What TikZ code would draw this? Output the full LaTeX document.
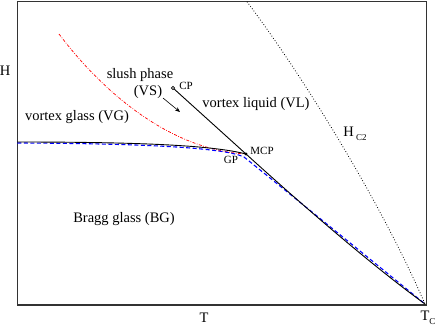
\documentclass[tikz,border=0pt]{standalone}
\usepackage{fontspec}
\setmainfont{Liberation Serif}
\usetikzlibrary{arrows.meta}
\tikzset{
  phase/.style={font=\fontsize{14.5}{16}\selectfont},
  pointlbl/.style={font=\fontsize{11}{13}\selectfont},
  frame/.style={draw=black!80,line width=1.1pt},
  melt/.style={line width=0.9pt},
  bgline/.style={draw=blue,line width=1.1pt,dash pattern=on 4pt off 2.5pt},
  slush/.style={draw=red,line width=0.7pt,dash pattern=on 3pt off 1.5pt on 0.7pt off 1.5pt},
  hctwo/.style={line width=0.8pt,dash pattern=on 0.8pt off 2pt}
}
\newcommand{\subtxt}[1]{\raisebox{-0.6ex}{\fontsize{9}{10}\selectfont #1}}
\begin{document}
\begin{tikzpicture}[x=1pt,y=-1pt,>=stealth]
\useasboundingbox (0,0) rectangle (436,327);
\draw[frame] (17.3,1.7) rectangle (426.8,305);
% special points
\coordinate (Tc) at (425,304);
\coordinate (MCP) at (246,154);
\coordinate (CP) at (173,88);
\coordinate (GP) at (244,157);
\coordinate (left) at (17.3,142);
\coordinate (leftB) at (17.3,143);
\coordinate (hctop) at (247,1.7);
\coordinate (vstop) at (59,34);
\coordinate (arrA) at (163,98);
\coordinate (arrB) at (180,112);
% lines
\draw[hctwo] (hctop) .. controls (300,72) and (380,200) .. (Tc);
\draw[slush] (vstop) .. controls (105,95) and (172,150) .. (MCP);
\draw[bgline] (leftB) .. controls (150,143.5) and (225,148) .. (GP) .. controls (290,194) and (365,255) .. (Tc);
\draw[melt] (left) .. controls (150,142) and (215,146) .. (MCP) .. controls (300,203) and (370,264) .. (Tc);
\draw[melt] (CP) -- (MCP);
\draw[-{Stealth[length=5pt,width=4pt]},line width=0.6pt] (arrA) -- (arrB);
\fill (MCP) circle (1.7pt);
\draw[line width=0.6pt,fill=white] (CP) circle (1.6pt);
% labels
\node[phase] (lblH) at (5,71) {H};
\node[phase] (lblT) at (204,318) {T};
\node[phase] (lblTc) at (428,318) {T\subtxt{C}};
\node[phase] (lblHc) at (355,134) {H\,\subtxt{C2}};
\node[phase] (lblslush) at (140,75) {slush phase};
\node[phase] (lblVS) at (148,92) {(VS)};
\node[phase] (lblVL) at (256,104) {vortex liquid (VL)};
\node[phase] (lblVG) at (77,117) {vortex glass (VG)};
\node[phase] (lblBG) at (124,219) {Bragg glass (BG)};
\node[pointlbl] (lblCP) at (186,86) {CP};
\node[pointlbl] (lblMCP) at (262,151) {MCP};
\node[pointlbl] (lblGP) at (231,160) {GP};
\end{tikzpicture}
\end{document}
